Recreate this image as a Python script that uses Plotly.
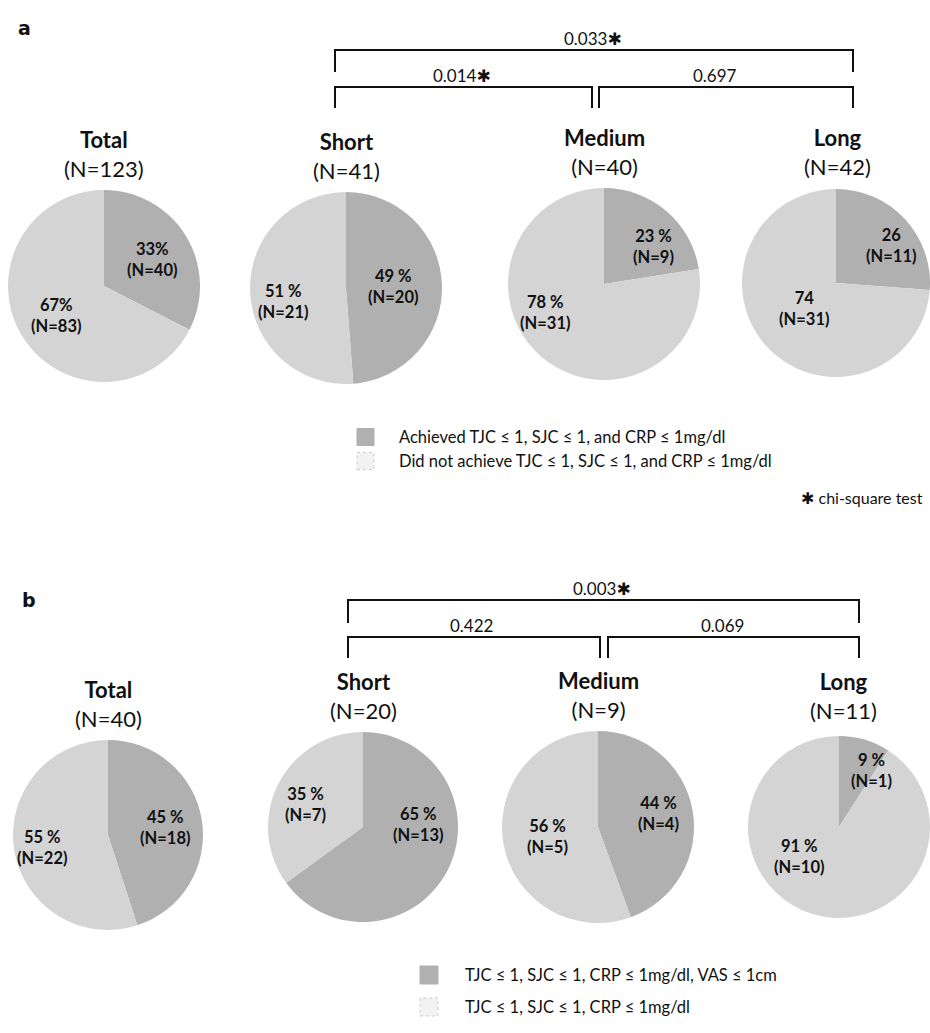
import math
import plotly.graph_objects as go

W, H = 930, 1033

# ---------------- data ----------------
groups = ["Total", "Short", "Medium", "Long"]

a_achieved = [40, 20, 9, 11]
a_not_achieved = [83, 21, 31, 31]
a_group_n = [123, 41, 40, 42]
a_pct_achieved = ["33%", "49 %", "23 %", "26"]
a_pct_not = ["67%", "51 %", "78 %", "74"]
a_pvalues = ["0.014✱", "0.697", "0.033✱"]   # short-medium, medium-long, short-long

b_achieved = [18, 13, 4, 1]
b_not_achieved = [22, 7, 5, 10]
b_group_n = [40, 20, 9, 11]
b_pct_achieved = ["45 %", "65 %", "44 %", "9 %"]
b_pct_not = ["55 %", "35 %", "56 %", "91 %"]
b_pvalues = ["0.422", "0.069", "0.003✱"]

a_legend = ["Achieved TJC ≤ 1, SJC ≤ 1, and CRP ≤ 1mg/dl",
            "Did not achieve TJC ≤ 1, SJC ≤ 1, and CRP ≤ 1mg/dl"]
b_legend = ["TJC ≤ 1, SJC ≤ 1, CRP ≤ 1mg/dl, VAS ≤ 1cm",
            "TJC ≤ 1, SJC ≤ 1, CRP ≤ 1mg/dl"]
footnote = "✱ chi-square test"

# ---------------- styles / layout geometry (pixels) ----------------
DARK = "#b0b0b0"
LIGHT = "#d4d4d4"
FONT = "Lato, 'DejaVu Sans', sans-serif"
INK = "#111111"

a_centers = [(104, 286, 96), (346, 288, 96), (604, 284, 96), (837, 283, 95)]
b_centers = [(108, 835, 95), (363, 827, 95), (598, 827, 96), (843, 827, 95)]

# small nudges of the in-slice labels (px)
a_off_ach = [(-1, 4), (-11, 1), (12, 6), (12, 1)]
a_off_not = [(1, -1), (-5, 11), (-22, -15), (9, -13)]
b_off_ach = [(1, 1), (4, -28), (4, -3), (12, -2)]
b_off_not = [(-10, 4), (-7, 3), (6, -1), (-28, -25)]


def px(x):
    return x / W


def py(y):
    return 1 - y / H


fig = go.Figure()
annotations = []
shapes = []


def add_panel(achieved, not_achieved, group_n, pct_ach, pct_not, centers, off_ach, off_not):
    for i, g in enumerate(groups):
        cx, cy, r = centers[i]
        x0, x1 = max(0, px(cx - r)), min(1, px(cx + r))
        y0, y1 = max(0, py(cy + r)), min(1, py(cy - r))
        fig.add_trace(go.Pie(
            values=[achieved[i], not_achieved[i]],
            labels=["Achieved", "Not achieved"],
            sort=False, direction="clockwise", rotation=0,
            marker=dict(colors=[DARK, LIGHT], line=dict(width=0)),
            textinfo="none", hoverinfo="label+value+percent",
            showlegend=False,
            domain=dict(x=[x0, x1], y=[y0, y1]),
        ))
        # group title
        annotations.append(dict(
            x=px(cx), y=py(cy - r - 36), xref="paper", yref="paper",
            text=f"<b>{g}</b><br>(N={group_n[i]})", showarrow=False,
            xanchor="center", yanchor="middle",
            font=dict(family=FONT, size=22, color=INK)))
        # slice labels
        tot = achieved[i] + not_achieved[i]
        frac_a = achieved[i] / tot
        mids = [frac_a / 2, frac_a + (1 - frac_a) / 2]
        texts = [f"{pct_ach[i]}<br>(N={achieved[i]})", f"{pct_not[i]}<br>(N={not_achieved[i]})"]
        offs = [off_ach[i], off_not[i]]
        for m, t, o in zip(mids, texts, offs):
            th = 2 * math.pi * m
            lx = cx + 0.6 * r * math.sin(th) + o[0]
            ly = cy - 0.6 * r * math.cos(th) + o[1]
            annotations.append(dict(
                x=px(lx), y=py(ly), xref="paper", yref="paper",
                text=f"<b>{t}</b>", showarrow=False,
                xanchor="center", yanchor="middle",
                font=dict(family=FONT, size=16.5, color=INK)))


add_panel(a_achieved, a_not_achieved, a_group_n, a_pct_achieved, a_pct_not, a_centers, a_off_ach, a_off_not)
add_panel(b_achieved, b_not_achieved, b_group_n, b_pct_achieved, b_pct_not, b_centers, b_off_ach, b_off_not)

LINE = dict(color=INK, width=2)


def bracket(xl, xr, ytop, ybot):
    shapes.append(dict(type="path", xref="paper", yref="paper",
                       path=f"M {px(xl)} {py(ybot)} L {px(xl)} {py(ytop)} L {px(xr)} {py(ytop)} L {px(xr)} {py(ybot)}",
                       line=LINE))


def plabel(x, y, text):
    annotations.append(dict(x=px(x), y=py(y), xref="paper", yref="paper", text=text,
                            showarrow=False, xanchor="center", yanchor="bottom",
                            font=dict(family=FONT, size=17, color=INK)))


# panel a brackets
bracket(335, 853, 50, 72)
bracket(335, 592, 87, 108)
bracket(599, 853, 87, 108)
plabel(462, 88, a_pvalues[0])
plabel(715, 88, a_pvalues[1])
plabel(593, 51, a_pvalues[2])

# panel b brackets
bracket(348, 859, 600, 623)
bracket(348, 600, 637, 658)
bracket(608, 859, 637, 658)
plabel(471, 638, b_pvalues[0])
plabel(722, 638, b_pvalues[1])
plabel(602, 601, b_pvalues[2])

# panel letters
annotations.append(dict(x=px(16), y=py(28), xref="paper", yref="paper", text="<b>a</b>",
                        showarrow=False, xanchor="left", yanchor="middle",
                        font=dict(family="'DejaVu Sans', sans-serif", size=19, color=INK)))
annotations.append(dict(x=px(20), y=py(600), xref="paper", yref="paper", text="<b>b</b>",
                        showarrow=False, xanchor="left", yanchor="middle",
                        font=dict(family="'DejaVu Sans', sans-serif", size=19, color=INK)))


def legend_item(sx, sy, size, color, tx, text, fsize, dotted=False):
    shapes.append(dict(type="rect", xref="paper", yref="paper",
                       x0=px(sx), x1=px(sx + size), y0=py(sy + size / 2), y1=py(sy - size / 2),
                       fillcolor=color,
                       line=dict(color="#cccccc" if dotted else color, width=1, dash="dot" if dotted else "solid")))
    annotations.append(dict(x=px(tx), y=py(sy), xref="paper", yref="paper", text=text,
                            showarrow=False, xanchor="left", yanchor="middle",
                            font=dict(family=FONT, size=fsize, color=INK)))


legend_item(357, 437, 17, DARK, 397, a_legend[0], 16.5)
legend_item(357, 461, 17, "#f2f2f2", 397, a_legend[1], 16.5, dotted=True)
annotations.append(dict(x=px(925), y=py(497), xref="paper", yref="paper", text=footnote,
                        showarrow=False, xanchor="right", yanchor="middle",
                        font=dict(family=FONT, size=16, color=INK)))

legend_item(420, 975, 18, DARK, 463, b_legend[0], 16.5)
legend_item(420, 1007, 18, "#f2f2f2", 463, b_legend[1], 16.5, dotted=True)

fig.update_layout(
    width=W, height=H,
    margin=dict(l=0, r=0, t=0, b=0),
    paper_bgcolor="white", plot_bgcolor="white",
    annotations=annotations, shapes=shapes,
    showlegend=False,
)

fig.write_html("out.html", config={"displayModeBar": False},
               post_script="document.body.style.margin='0';")
